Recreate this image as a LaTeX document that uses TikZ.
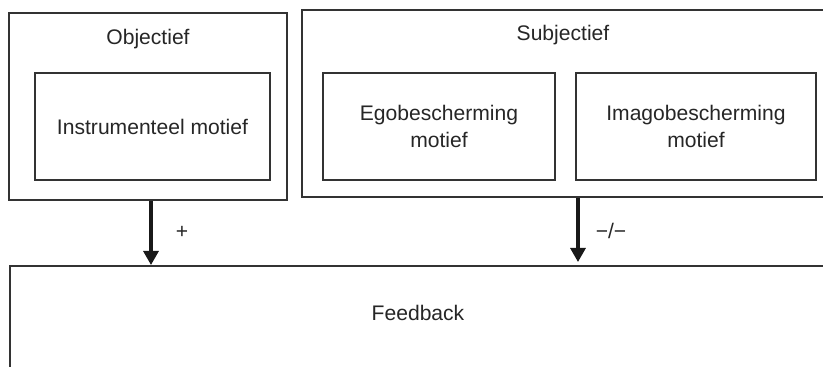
\documentclass[tikz,border=0pt]{standalone}
\usepackage{fontspec}
\setmainfont{Liberation Sans}
\usetikzlibrary{arrows.meta, positioning}

\begin{document}
\begin{tikzpicture}[x=0.02cm, y=-0.02cm,
    >={Triangle[width=0.3cm, length=0.28cm]},
    box/.style={draw=black!80, line width=0.9pt},
    txt/.style={font=\fontsize{12}{15.5}\selectfont, align=center, text=black!85}]
    % 1. Khung hình
    \useasboundingbox (0,0) rectangle (823,367);
    \clip (0,0) rectangle (823,367);

    % 2. Các khối phía trên
    \node[box, minimum width=5.56cm, minimum height=3.74cm] (obj) at (148,106.5) {};
    \node[txt] (objtitle) at (148,39) {Objectief};
    \node[box, txt, minimum width=4.7cm, minimum height=2.14cm] (instr) at (152.5,126.5) {Instrumenteel motief};

    \node[box, minimum width=11.04cm, minimum height=3.74cm] (subj) at (578,103.5) {};
    \node[txt] (subjtitle) at (563,35) {Subjectief};
    \node[box, txt, minimum width=4.64cm, minimum height=2.14cm] (ego) at (439,126.5) {Egobescherming\\motief};
    \node[box, txt, minimum width=4.8cm, minimum height=2.14cm] (imago) at (696,126.5) {Imagobescherming\\motief};

    % 3. Khối phản hồi
    \node[box, anchor=north west, minimum width=17cm, minimum height=3cm] (fb) at (9,265) {};
    \node[txt] (fbtext) at (418,313) {Feedback};

    % 4. Mũi tên
    \coordinate (a1) at ([xshift=0.06cm]obj.south);
    \draw[->, line width=1.8pt, black!90] (a1) -- (a1 |- fb.north);
    \draw[->, line width=1.8pt, black!90] (subj.south) -- ([yshift=0.06cm]subj.south |- fb.north);
    \node[txt] (plus) at (182,232) {+};
    \node[txt] (minmin) at (611,231) {−/−};
\end{tikzpicture}
\end{document}
